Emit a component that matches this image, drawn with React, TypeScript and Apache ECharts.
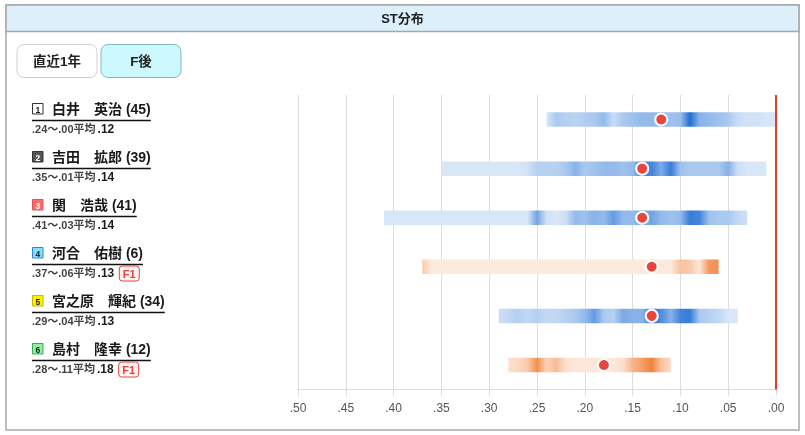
import React, { useEffect, useRef } from "react";
import * as echarts from "echarts";

// ---- data ----
const lanes = [1, 2, 3, 4, 5, 6];
const names = ["白井　英治", "吉田　拡郎", "関　浩哉", "河合　佑樹", "宮之原　輝紀", "島村　隆幸"];
const counts = [45, 39, 41, 6, 34, 12];
const stSlow = [0.24, 0.35, 0.41, 0.37, 0.29, 0.28];
const stFast = [0.0, 0.01, 0.03, 0.06, 0.04, 0.11];
const stAvg = [0.12, 0.14, 0.14, 0.13, 0.13, 0.18];
const fCounts = [0, 0, 0, 1, 0, 1];
// density per 0.01 step from slow end to fast end (0..1)
const density1 = [0.15, 0.35, 0.3, 0.28, 0.32, 0.35, 0.45, 0.22, 0.35, 0.4, 0.45, 0.45, 0.45, 0.4, 0.42, 0.95, 0.5, 0.45, 0.4, 0.35, 0.22, 0.18, 0.18, 0.15, 0.15];
const density2 = [0.15, 0.15, 0.15, 0.15, 0.15, 0.15, 0.15, 0.15, 0.15, 0.18, 0.3, 0.3, 0.3, 0.35, 0.5, 0.35, 0.4, 0.45, 0.45, 0.4, 0.45, 0.75, 0.8, 0.55, 0.85, 0.4, 0.35, 0.35, 0.35, 0.35, 0.5, 0.2, 0.15, 0.15, 0.15];
const density3 = [0.15, 0.15, 0.15, 0.15, 0.15, 0.15, 0.15, 0.15, 0.15, 0.15, 0.15, 0.15, 0.15, 0.15, 0.15, 0.15, 0.6, 0.18, 0.15, 0.2, 0.45, 0.4, 0.5, 0.45, 0.65, 0.45, 0.45, 0.55, 0.6, 0.45, 0.4, 0.45, 0.85, 0.8, 0.4, 0.35, 0.35, 0.25, 0.2];
const density4 = [0.35, 0.12, 0.12, 0.12, 0.12, 0.12, 0.12, 0.12, 0.12, 0.12, 0.12, 0.12, 0.12, 0.12, 0.12, 0.12, 0.12, 0.12, 0.12, 0.12, 0.12, 0.12, 0.12, 0.12, 0.12, 0.12, 0.12, 0.4, 0.35, 0.15, 0.7, 0.75];
const density5 = [0.2, 0.25, 0.3, 0.25, 0.3, 0.25, 0.25, 0.3, 0.35, 0.45, 0.65, 0.35, 0.3, 0.55, 0.5, 0.5, 0.85, 0.75, 0.5, 0.8, 0.85, 0.35, 0.3, 0.25, 0.15, 0.15];
const density6 = [0.2, 0.25, 0.35, 0.75, 0.3, 0.45, 0.2, 0.15, 0.15, 0.15, 0.15, 0.15, 0.2, 0.5, 0.65, 0.85, 0.4, 0.25];
const densities = [density1, density2, density3, density4, density5, density6];
const axisMin = 0;
const axisMax = 0.5;
const axisStep = 0.05;
const periodTabs = ["直近1年", "F後"];
const activeTab = 1;
const title = "ST分布";

// ---- helpers ----
const FONT = "'Liberation Sans', 'Noto Sans CJK JP', sans-serif";
const fmtST = (v: number) => "." + String(Math.round(v * 100)).padStart(2, "0");

const BLUE_L = [221, 234, 249];
const BLUE_D = [32, 110, 212];
const ORG_L = [253, 234, 223];
const ORG_D = [240, 116, 34];
function mix(a: number[], b: number[], t: number) {
  const tt = Math.max(0, Math.min(1, (t - 0.13) / 0.82));
  const c = a.map((v, i) => Math.round(v + (b[i] - v) * tt));
  return `rgb(${c[0]},${c[1]},${c[2]})`;
}

const boxStyles = [
  { fill: "#ffffff", stroke: "#333333", text: "#222222" },
  { fill: "#555555", stroke: "#333333", text: "#ffffff" },
  { fill: "#ff6b6b", stroke: "#e05555", text: "#ffffff" },
  { fill: "#7fe3fb", stroke: "#3a7fd8", text: "#222222" },
  { fill: "#fff000", stroke: "#c8b800", text: "#222222" },
  { fill: "#8ef0a0", stroke: "#3aaa55", text: "#222222" },
];

export default function App() {
  const ref = useRef<HTMLDivElement>(null);
  useEffect(() => {
    if (!ref.current) return;
    const chart = echarts.init(ref.current, undefined, { renderer: "svg" });
    const ctx = document.createElement("canvas").getContext("2d")!;
    const measure = (t: string, font: string) => {
      ctx.font = font;
      return ctx.measureText(t).width;
    };
    const T = (x: number, y: number, text: string, font: string, fill: string, align = "left") => ({
      type: "text",
      x,
      y,
      style: { text, font, fill, align, verticalAlign: "middle", textAlign: align, textVerticalAlign: "middle" },
    });

    const graphics: any[] = [];
    // frame & header
    graphics.push({ type: "rect", shape: { x: 6, y: 5, width: 793, height: 425 }, style: { fill: "#fff", stroke: "#a8a8a8", lineWidth: 1.5 }, z: -10 });
    graphics.push({ type: "rect", shape: { x: 6, y: 5, width: 793, height: 26.5 }, style: { fill: "#ddeffa", stroke: "#a8a8a8", lineWidth: 1.5 }, z: -9 });
    graphics.push(T(402.5, 18.5, title, `bold 13px ${FONT}`, "#222", "center"));
    // tabs
    periodTabs.forEach((t, i) => {
      const x = 17 + i * 84;
      const active = i === activeTab;
      graphics.push({ type: "rect", shape: { x, y: 44.5, width: 80, height: 33, r: 7 }, style: { fill: active ? "#ccf8fe" : "#fff", stroke: active ? "#7fb7c2" : "#cfcfcf", lineWidth: 1 } });
      graphics.push(T(x + 40, 61, t, `bold 13.5px ${FONT}`, "#222", "center"));
    });
    // racer labels
    lanes.forEach((lane, i) => {
      const cy = 109 + i * 48;
      const bs = boxStyles[i];
      graphics.push({ type: "rect", shape: { x: 32.5, y: cy - 5.5, width: 10.5, height: 10.5 }, style: { fill: bs.fill, stroke: bs.stroke, lineWidth: 1 } });
      graphics.push(T(37.75, cy + 0.5, String(lane), `bold 8.5px ${FONT}`, bs.text, "center"));
      const nameText = `${names[i]} (${counts[i]})`;
      const nameFont = `bold 14px ${FONT}`;
      const nw = measure(nameText, nameFont);
      graphics.push(T(52, cy, nameText, nameFont, "#1a1a1a"));
      graphics.push({ type: "line", shape: { x1: 32, y1: cy + 11.5, x2: 52 + nw, y2: cy + 11.5 }, style: { stroke: "#111", lineWidth: 1.5 } });
      const sy = cy + 20;
      const aText = `${fmtST(stSlow[i])}〜${fmtST(stFast[i])}平均`;
      const aFont = `bold 11px ${FONT}`;
      const aw = measure(aText, aFont);
      graphics.push(T(32, sy, aText, aFont, "#444"));
      const bText = fmtST(stAvg[i]);
      const bFont = `bold 12px ${FONT}`;
      const bw = measure(bText, bFont);
      graphics.push(T(32 + aw + 2, sy, bText, bFont, "#1a1a1a"));
      if (fCounts[i] > 0) {
        const fx = 32 + aw + 2 + bw + 5;
        graphics.push({ type: "rect", shape: { x: fx, y: sy - 7, width: 20, height: 15, r: 3 }, style: { fill: "#fff5f5", stroke: "#e8433a", lineWidth: 1 } });
        graphics.push(T(fx + 10, sy + 0.5, `F${fCounts[i]}`, `bold 11px ${FONT}`, "#e8433a", "center"));
      }
    });

    const barData = lanes.map((_, i) => [i, stSlow[i], stFast[i]]);
    const dotData = lanes.map((_, i) => [stAvg[i], i]);

    chart.setOption({
      animation: false,
      textStyle: { fontFamily: FONT },
      grid: { left: 298, right: 29, top: 95, bottom: 45.5 },
      xAxis: {
        type: "value",
        min: axisMin,
        max: axisMax,
        interval: axisStep,
        inverse: true,
        axisLine: { show: true, lineStyle: { color: "#dddddd", width: 1 } },
        axisTick: { show: true, length: 6, lineStyle: { color: "#dddddd" } },
        splitLine: { show: true, lineStyle: { color: "#dddddd", width: 1 } },
        axisLabel: { formatter: (v: number) => fmtST(v), color: "#555", fontSize: 12, margin: 12, fontFamily: FONT },
      },
      yAxis: {
        type: "category",
        data: names,
        inverse: true,
        axisLine: { show: false },
        axisTick: { show: false },
        axisLabel: { show: false },
        splitLine: { show: false },
      },
      graphic: { elements: graphics },
      series: [
        {
          type: "custom",
          data: barData,
          encode: { x: [1, 2], y: 0 },
          renderItem: (params: any, api: any) => {
            const idx = api.value(0);
            const s = api.coord([api.value(1), idx]);
            const e = api.coord([api.value(2), idx]);
            const h = 14.5;
            const d = densities[params.dataIndex];
            const orange = fCounts[params.dataIndex] > 0;
            const stops = d.map((t: number, k: number) => ({
              offset: d.length > 1 ? k / (d.length - 1) : 0,
              color: orange ? mix(ORG_L, ORG_D, t) : mix(BLUE_L, BLUE_D, t),
            }));
            return {
              type: "rect",
              shape: { x: s[0], y: s[1] - h / 2, width: e[0] - s[0], height: h },
              style: { fill: new echarts.graphic.LinearGradient(0, 0, 1, 0, stops) },
            };
          },
          z: 2,
        },
        {
          type: "scatter",
          data: dotData,
          symbolSize: 12,
          itemStyle: { color: "#e8453c", borderColor: "#ffffff", borderWidth: 2, opacity: 1 },
          z: 5,
          markLine: {
            silent: true,
            symbol: ["none", "none"],
            label: { show: false },
            lineStyle: { color: "#e53b32", width: 2, type: "solid" },
            data: [{ xAxis: 0 }],
          },
        },
      ],
    });
    return () => chart.dispose();
  }, []);
  return <div ref={ref} style={{ position: "fixed", left: 0, top: 0, width: 805, height: 435 }} />;
}
